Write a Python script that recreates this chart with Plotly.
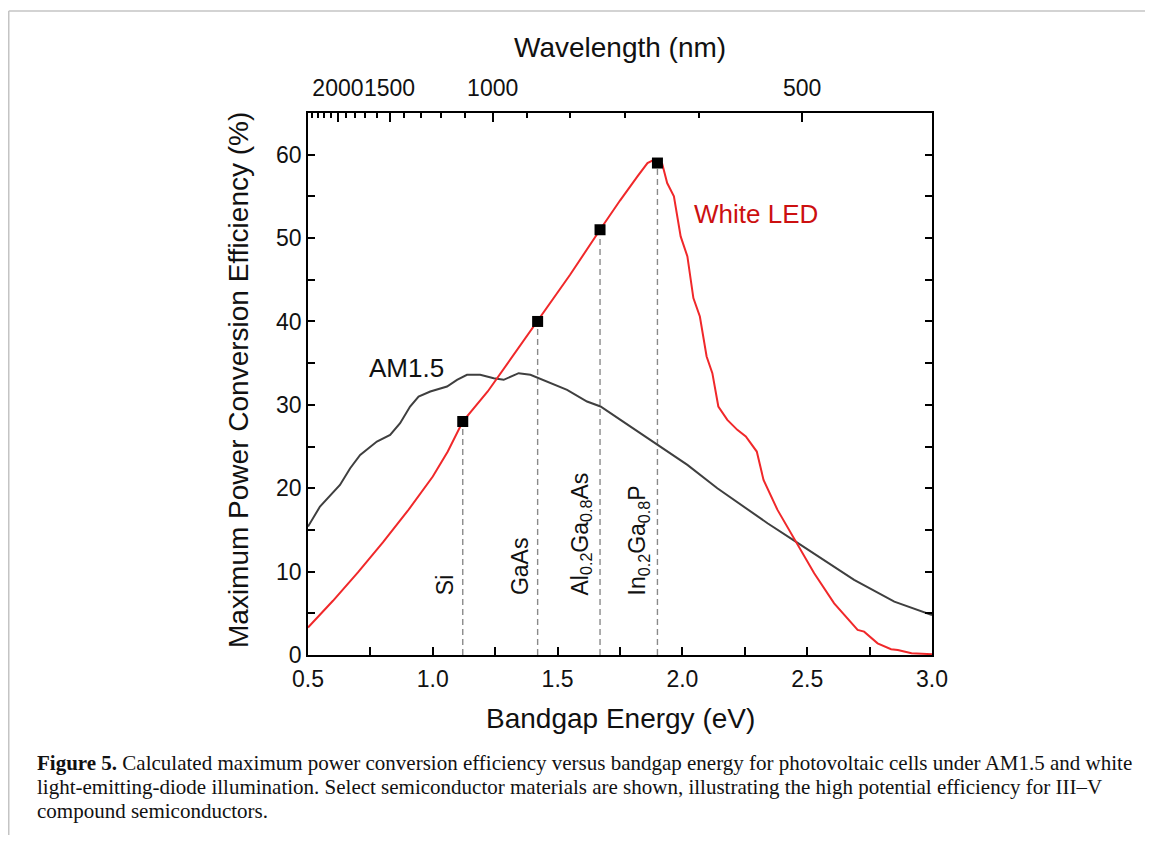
import plotly.graph_objects as go

# ---------------- data ----------------
led_E = [0.50, 0.60, 0.70, 0.80, 0.90, 1.00, 1.06, 1.12, 1.22, 1.31, 1.42, 1.55, 1.67, 1.75, 1.82, 1.86, 1.88, 1.90,
         1.919, 1.939, 1.966, 1.993, 2.020, 2.044, 2.070, 2.097, 2.120, 2.144, 2.180, 2.220, 2.254, 2.298,
         2.325, 2.381, 2.454, 2.528, 2.608, 2.702, 2.728, 2.782, 2.836, 2.863, 2.918, 3.00]
led_eff = [3.3, 6.5, 9.9, 13.5, 17.3, 21.4, 24.4, 28.0, 31.6, 35.4, 40.0, 45.6, 51.0, 54.5, 57.4, 59.0, 59.3, 59.1,
           58.9, 56.6, 55.0, 50.2, 47.8, 42.8, 40.6, 35.8, 33.8, 29.8, 28.2, 27.0, 26.2, 24.4,
           21.0, 17.4, 13.6, 9.8, 6.2, 3.0, 2.8, 1.4, 0.7, 0.6, 0.2, 0.1]

am_E = [0.50, 0.548, 0.628, 0.669, 0.709, 0.776, 0.829, 0.869, 0.909, 0.943, 0.990, 1.057, 1.097, 1.137,
        1.190, 1.244, 1.284, 1.311, 1.344, 1.391, 1.458, 1.538, 1.618, 1.672, 1.752, 1.903, 2.020, 2.140,
        2.234, 2.341, 2.454, 2.555, 2.688, 2.849, 3.00]
am_eff = [15.4, 17.8, 20.4, 22.4, 24.0, 25.6, 26.4, 27.8, 29.8, 31.0, 31.6, 32.2, 33.0, 33.6,
          33.6, 33.2, 33.0, 33.4, 33.8, 33.6, 32.8, 31.8, 30.4, 29.8, 28.2, 25.2, 22.8, 20.0,
          18.0, 15.8, 13.6, 11.6, 9.0, 6.4, 4.8]

materials = ["Si", "GaAs", "Al<sub>0.2</sub>Ga<sub>0.8</sub>As", "In<sub>0.2</sub>Ga<sub>0.8</sub>P"]
mat_E = [1.12, 1.42, 1.67, 1.90]
mat_eff = [28, 40, 51, 59]

wl_major = [2000, 1500, 1000, 500]
wl_major_labels = ["2000", "1500", "1000", "500"]
wl_minor = [2400, 2300, 2200, 2100, 1900, 1800, 1700, 1600, 1400, 1300, 1200, 1100, 900, 800, 700, 600]
HC = 1240.0  # eV*nm

caption_lines = [
    "<b>Figure 5.</b> Calculated maximum power conversion efficiency versus bandgap energy for photovoltaic cells under AM1.5 and white",
    "light-emitting-diode illumination. Select semiconductor materials are shown, illustrating the high potential efficiency for III–V",
    "compound semiconductors.",
]

# ---------------- figure ----------------
OFF = 8                      # page body margin
W, H = 1137, 827
L, T = 300, 105
PW, PH = 624, 542
R, B = W - L - PW, H - T - PH


def px(page_x):
    return (page_x - OFF - L) / PW


def py(page_y):
    return (T + PH - (page_y - OFF)) / PH


SANS = "Liberation Sans, Arial, sans-serif"
SERIF = "Liberation Serif, Times New Roman, serif"
fig = go.Figure()

# dashed drop lines
for e, v in zip(mat_E, mat_eff):
    fig.add_trace(go.Scatter(x=[e, e], y=[0, v], mode="lines",
                             line=dict(color="#8a8a8a", width=1.4, dash="6px,4px"),
                             showlegend=False, hoverinfo="skip"))

fig.add_trace(go.Scatter(x=am_E, y=am_eff, mode="lines", line=dict(color="#3f3f3f", width=2),
                         showlegend=False, name="AM1.5"))
fig.add_trace(go.Scatter(x=led_E, y=led_eff, mode="lines", line=dict(color="#f0282a", width=2),
                         showlegend=False, name="White LED"))
fig.add_trace(go.Scatter(x=mat_E, y=mat_eff, mode="markers",
                         marker=dict(symbol="square", size=11, color="black"),
                         showlegend=False, name="materials"))
# invisible trace to activate the top axis
fig.add_trace(go.Scatter(x=[0.5, 3.0], y=[None, None], xaxis="x2", yaxis="y", mode="lines",
                         showlegend=False, hoverinfo="skip"))

axis_common = dict(showgrid=False, zeroline=False, showline=True, linecolor="black", linewidth=1.5,
                   ticks="inside", tickcolor="black", tickwidth=1.5,
                   tickfont=dict(family=SANS, size=23, color="#111"))

fig.update_layout(
    width=W, height=H, autosize=False,
    margin=dict(l=L, r=R, t=T, b=B, pad=0),
    paper_bgcolor="white", plot_bgcolor="white",
    xaxis=dict(**axis_common, range=[0.5, 3.0], tickmode="array",
               tickvals=[0.5, 1.0, 1.5, 2.0, 2.5, 3.0], ticktext=["0.5", "1.0", "1.5", "2.0", "2.5", "3.0"],
               ticklen=8, tickangle=0, ticklabelstandoff=3,
               minor=dict(dtick=0.25, tick0=0.5, ticklen=8, tickcolor="black", tickwidth=1.5, ticks="inside"),
               mirror=True),
    xaxis2=dict(**axis_common, overlaying="x", side="top", range=[0.5, 3.0], tickmode="array",
                tickvals=[HC / w for w in wl_major], ticktext=wl_major_labels, ticklen=9, tickangle=0,
                ticklabelstandoff=6,
                minor=dict(tickmode="array", tickvals=[HC / w for w in wl_minor], ticklen=5,
                           tickcolor="black", tickwidth=1.5, ticks="inside")),
    yaxis=dict(**axis_common, range=[0, 65], tickmode="array", tickvals=[0, 10, 20, 30, 40, 50, 60],
               ticklen=7, minor=dict(dtick=5, tick0=0, ticklen=7, tickcolor="black", tickwidth=1.5, ticks="inside"),
               mirror="allticks"),
)

ann = []
# axis titles
ann.append(dict(x=px(238), y=py(380), xref="paper", yref="paper", text="Maximum Power Conversion Efficiency (%)",
                textangle=-90, showarrow=False, font=dict(family=SANS, size=28, color="#111"),
                xanchor="center", yanchor="middle"))
ann.append(dict(x=0.5, y=py(718), xref="paper", yref="paper", text="Bandgap Energy (eV)", showarrow=False,
                font=dict(family=SANS, size=28, color="#111"), xanchor="center", yanchor="middle"))
ann.append(dict(x=0.5, y=py(47), xref="paper", yref="paper", text="Wavelength (nm)", showarrow=False,
                font=dict(family=SANS, size=28, color="#111"), xanchor="center", yanchor="middle"))
# curve labels
ann.append(dict(x=0.893, y=34.4, xref="x", yref="y", text="AM1.5", showarrow=False,
                font=dict(family=SANS, size=26, color="#111"), xanchor="center", yanchor="middle"))
ann.append(dict(x=2.295, y=52.9, xref="x", yref="y", text="White LED", showarrow=False,
                font=dict(family=SANS, size=26, color="#cc1010"), xanchor="center", yanchor="middle"))
# material labels
for name, e in zip(materials, mat_E):
    ann.append(dict(x=e, y=6.9, xref="x", yref="y", text=name, textangle=-90, showarrow=False,
                    font=dict(family=SANS, size=23, color="#111"), xanchor="right", yanchor="bottom",
                    xshift=-2))
# caption, one annotation per line for tight line spacing
for i, line in enumerate(caption_lines):
    ann.append(dict(x=px(35), y=py(763 + 24 * i), xref="paper", yref="paper", text=line, showarrow=False,
                    align="left", xanchor="left", yanchor="middle",
                    font=dict(family=SERIF, size=21, color="#111")))
fig.update_layout(annotations=ann)

# thin frame around the figure
fig.add_shape(type="line", xref="paper", yref="paper", x0=px(8.75), x1=px(1153), y0=py(11), y1=py(11),
              line=dict(color="#c4c4c4", width=1.5))
fig.add_shape(type="line", xref="paper", yref="paper", x0=px(8.75), x1=px(8.75), y0=py(11), y1=py(843),
              line=dict(color="#c4c4c4", width=1.5))

fig.write_html("out.html")
